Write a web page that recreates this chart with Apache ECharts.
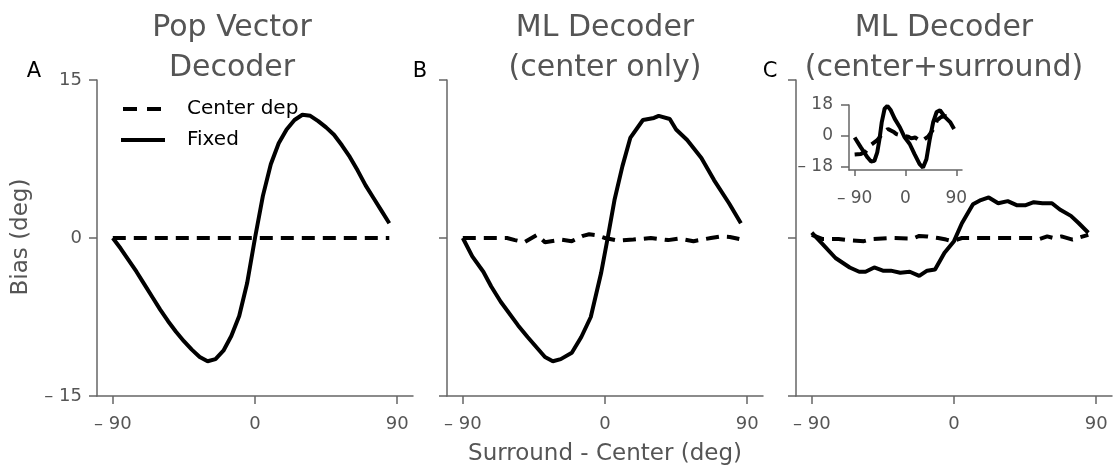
<!DOCTYPE html>
<html>
<head>
<meta charset="utf-8">
<script src="https://cdn.jsdelivr.net/npm/echarts@6/dist/echarts.min.js"></script>
<style>
html,body{margin:0;padding:0;background:#fff;}
#c{width:1119px;height:468px;}
</style>
</head>
<body>
<div id="c"></div>
<script>
// ---- data ----
const titles = ['Pop Vector\nDecoder', 'ML Decoder\n(center only)', 'ML Decoder\n(center+surround)'];
const panelLetters = ['A', 'B', 'C'];
const seriesNames = ['Center dep', 'Fixed'];
const xTicks = [-90, 0, 90];
const yTicks = [-15, 0, 15];
const insetYTicks = [-18, 0, 18];

// Panel A
const aFixedX = [-90,-85,-80,-75,-70,-65,-60,-55,-50,-45,-40,-35,-30,-25,-20,-15,-10,-5,0,5,10,15,20,25,30,35,40,45,50,55,60,65,70,75,80,85];
const aFixedY = [0,-1.0,-2.1,-3.2,-4.4,-5.6,-6.8,-7.9,-8.9,-9.8,-10.6,-11.3,-11.7,-11.5,-10.7,-9.3,-7.4,-4.3,0,4.0,7.0,9.0,10.3,11.2,11.7,11.6,11.1,10.5,9.8,8.8,7.7,6.4,5.0,3.8,2.6,1.4];
const aCenterX = [-90,-80,-70,-60,-50,-40,-30,-20,-10,0,10,20,30,40,50,60,70,80,85];
const aCenterY = [0,0,0,0,0,0,0,0,0,0,0,0,0,0,0,0,0,0,0];

// Panel B
const bFixedX = [-90,-84,-77,-72,-66,-55,-49,-38,-33,-28,-21,-15,-9,-2.5,1.7,6,11,16,24,31,34,41,45,52,61,69,78.5,86];
const bFixedY = [0,-1.75,-3.2,-4.6,-6.05,-8.3,-9.4,-11.3,-11.7,-11.5,-10.9,-9.4,-7.5,-3.35,0,3.6,6.8,9.5,11.2,11.4,11.6,11.3,10.3,9.3,7.6,5.5,3.3,1.4];
const bCenterX = [-90,-72,-62,-57,-51,-43,-38,-28,-21,-14,-10,-5,0,8,18,29,40,47,56,67,73,79,85];
const bCenterY = [0,0,0,-0.2,-0.4,0.3,-0.4,-0.15,-0.3,0.2,0.35,0.25,0,-0.25,-0.15,0,-0.2,-0.05,-0.3,0,0.15,0.1,-0.1];

// Panel C
const cFixedX = [-90,-83,-75,-66,-60,-56,-50.5,-45,-40,-34,-28,-22,-17,-12,-6,0,5,12,17,22,28,34,40,45,50.5,56,62,67,74,79,85];
const cFixedY = [0.5,-0.6,-1.9,-2.8,-3.2,-3.2,-2.8,-3.1,-3.1,-3.3,-3.2,-3.6,-3.1,-3.0,-1.4,-0.3,1.4,3.2,3.6,3.85,3.3,3.5,3.1,3.1,3.4,3.3,3.3,2.7,2.1,1.4,0.5];
const cCenterX = [-90,-83,-73,-67,-57,-52,-41,-26,-22,-17,-10,-5,-1,5,20,35,50,54,59,63,68,75,85];
const cCenterY = [0.3,-0.1,-0.1,-0.2,-0.3,-0.1,0,-0.05,0.2,0.15,0,-0.15,-0.3,0,0,0,0,-0.1,0.15,0,0.15,-0.15,0.3];

// Panel C inset
const insetFixedX = [-90,-79,-67,-61,-55,-50,-46,-42,-37,-32,-26,-19,-10,-1.5,7.5,16,25,31,37,43,49,55,61,70,79,86];
const insetFixedY = [-1,-6.8,-12.7,-15,-14.6,-9.7,-1.9,8,15.8,17.5,14.9,9.9,5,-0.9,-4.8,-10.7,-16.6,-18.6,-13.7,-1.9,8,13.9,14.9,10.9,8,4];
const insetCenterX = [-90,-79,-70,-60,-50,-40,-31,-20,-16,-5,5,10,17,25,29,40,50,56,63,70,82];
const insetCenterY = [-11,-10.7,-9,-5,-2.6,1.5,4,2,1,0,-0.5,-1.5,-1,-2.8,-3.1,-0.5,4.2,9.2,11,11.5,11];

// ---- helpers ----
const zip = (xs, ys) => xs.map((x, i) => [x, ys[i]]);
const fmt = v => v < 0 ? '\u2013 ' + Math.abs(v) : String(v);
const AX = '#666';
const LBL = '#555';
const FONT = 'DejaVu Sans';
const LW = 4;

const panelLeft = [97, 447, 796];
const grids = panelLeft.map(l => ({left: l, top: 80, width: 316, height: 316, outerBoundsMode: 'none'}));
grids.push({left: 849, top: 105, width: 113, height: 65, outerBoundsMode: 'none'});

function xAx(gi, inset) {
  return {
    type: 'value', gridIndex: gi, min: -100, max: 100,
    axisLine: {show: true, onZero: false, lineStyle: {color: AX, width: 1.5}},
    axisTick: {show: true, customValues: xTicks, length: inset ? 6 : 8, lineStyle: {color: AX, width: 1.5}},
    axisLabel: {show: true, customValues: xTicks, formatter: fmt, color: LBL, fontFamily: FONT, fontSize: inset ? 17 : 18, margin: inset ? 20 : 19},
    splitLine: {show: false}
  };
}
function yAx(gi, showLabel) {
  return {
    type: 'value', gridIndex: gi, min: -15, max: 15, interval: 15,
    axisLine: {show: true, onZero: false, lineStyle: {color: AX, width: 1.5}},
    axisTick: {show: true, length: 8, lineStyle: {color: AX, width: 1.5}},
    axisLabel: {show: showLabel, formatter: fmt, color: LBL, fontFamily: FONT, fontSize: 18, margin: 15},
    splitLine: {show: false}
  };
}
const xAxes = [xAx(0), xAx(1), xAx(2), xAx(3, true)];
const yAxes = [yAx(0, true), yAx(1, false), yAx(2, false), {
  type: 'value', gridIndex: 3, min: -20, max: 18,
  axisLine: {show: true, onZero: false, lineStyle: {color: AX, width: 1.5}},
  axisTick: {show: true, customValues: insetYTicks, length: 8, lineStyle: {color: AX, width: 1.5}},
  axisLabel: {show: true, customValues: insetYTicks, formatter: fmt, color: LBL, fontFamily: FONT, fontSize: 17, margin: 16},
  splitLine: {show: false}
}];

const dashStyle = {color: '#000', width: LW, type: [13, 8]};
const solidStyle = {color: '#000', width: LW, type: 'solid'};
function line(name, gi, data, style) {
  return {name, type: 'line', xAxisIndex: gi, yAxisIndex: gi, data, symbol: 'none', showSymbol: false,
    lineStyle: style, itemStyle: {color: '#000'}, silent: true, animation: false};
}
const series = [
  line(seriesNames[0], 0, zip(aCenterX, aCenterY), dashStyle),
  line(seriesNames[1], 0, zip(aFixedX, aFixedY), solidStyle),
  line(seriesNames[0], 1, zip(bCenterX, bCenterY), dashStyle),
  line(seriesNames[1], 1, zip(bFixedX, bFixedY), solidStyle),
  line(seriesNames[0], 2, zip(cCenterX, cCenterY), dashStyle),
  line(seriesNames[1], 2, zip(cFixedX, cFixedY), solidStyle),
  line(seriesNames[0], 3, zip(insetCenterX, insetCenterY), dashStyle),
  line(seriesNames[1], 3, zip(insetFixedX, insetFixedY), solidStyle)
];

const titleX = [232, 605, 944];
const letterX = [34, 420, 770];
const graphics = [];
titles.forEach((t, i) => graphics.push({
  type: 'text', x: titleX[i], y: 8,
  style: {text: t, font: '30px "DejaVu Sans"', fill: LBL, textAlign: 'center', textVerticalAlign: 'top', lineHeight: 40}
}));
panelLetters.forEach((t, i) => graphics.push({
  type: 'text', x: letterX[i], y: 72,
  style: {text: t, font: '21px "DejaVu Sans"', fill: '#000', textAlign: 'center', textVerticalAlign: 'middle'}
}));
graphics.push({type: 'text', x: 21, y: 237, rotation: Math.PI / 2,
  style: {text: 'Bias (deg)', font: '23px "DejaVu Sans"', fill: LBL, textAlign: 'center', textVerticalAlign: 'middle'}});
graphics.push({type: 'text', x: 605, y: 454,
  style: {text: 'Surround - Center (deg)', font: '23px "DejaVu Sans"', fill: LBL, textAlign: 'center', textVerticalAlign: 'middle'}});
// legend (drawn as graphic keys)
graphics.push({type: 'line', shape: {x1: 123, y1: 109, x2: 162, y2: 109},
  style: {stroke: '#000', lineWidth: LW, lineDash: [14, 10]}});
graphics.push({type: 'line', shape: {x1: 121, y1: 140, x2: 165, y2: 140},
  style: {stroke: '#000', lineWidth: LW}});
graphics.push({type: 'text', x: 187, y: 109,
  style: {text: seriesNames[0], font: '20px "DejaVu Sans"', fill: '#000', textAlign: 'left', textVerticalAlign: 'middle'}});
graphics.push({type: 'text', x: 187, y: 140,
  style: {text: seriesNames[1], font: '20px "DejaVu Sans"', fill: '#000', textAlign: 'left', textVerticalAlign: 'middle'}});

const chart = echarts.init(document.getElementById('c'), null, {renderer: 'canvas'});
chart.setOption({
  animation: false,
  backgroundColor: '#fff',
  grid: grids,
  xAxis: xAxes,
  yAxis: yAxes,
  series,
  graphic: graphics
});
</script>
</body>
</html>
